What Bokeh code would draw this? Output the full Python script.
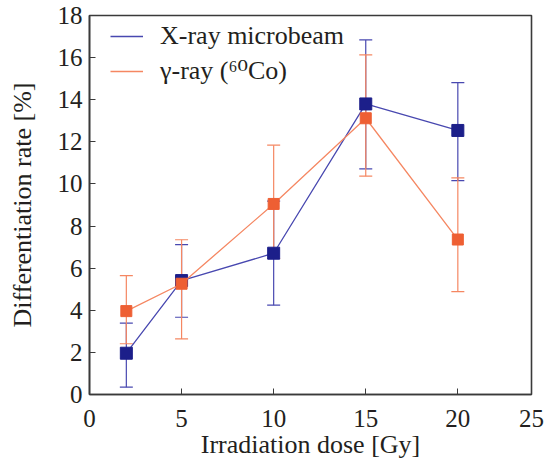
from bokeh.plotting import figure
from bokeh.models import (ColumnDataSource, Whisker, TeeHead, Legend, LegendItem,
                          FixedTicker, Range1d)
from bokeh.embed import file_html
from bokeh.resources import INLINE

# ---- data ----
dose = [2, 5, 10, 15, 20]
xray_rate = [1.96, 5.41, 6.71, 13.80, 12.54]
xray_hi = [3.39, 7.12, 9.18, 16.84, 14.81]
xray_lo = [0.35, 3.67, 4.24, 10.72, 10.16]
gamma_rate = [3.96, 5.26, 9.05, 13.12, 7.36]
gamma_hi = [5.65, 7.35, 11.84, 16.13, 10.29]
gamma_lo = [2.41, 2.64, 6.46, 10.37, 4.89]
x_ticks = [0, 5, 10, 15, 20, 24]
x_tick_labels = ["0", "5", "10", "15", "20", "25"]
y_ticks = [0, 2, 4, 6, 8, 10, 12, 14, 16, 18]

FONT = "Liberation Serif"
LEG_FONT = "Liberation Serif, DejaVu Serif"
BLUE_M = "#1c1f8a"
BLUE_L = "#4848b0"
ORANGE_M = "#ee5f33"
ORANGE_L = "#f58762"
AX = "#3a3a3a"

p = figure(width=548, height=461, output_backend="svg", toolbar_location=None,
           x_range=Range1d(0, 24), y_range=Range1d(0, 18),
           min_border_left=89, min_border_right=17, min_border_top=15,
           min_border_bottom=67)
p.grid.visible = False
p.outline_line_color = AX
p.outline_line_width = 1.6

bsrc = ColumnDataSource(dict(x=dose, y=xray_rate, hi=xray_hi, lo=xray_lo))
gsrc = ColumnDataSource(dict(x=dose, y=gamma_rate, hi=gamma_hi, lo=gamma_lo))

# X-ray series
bw = Whisker(source=bsrc, base="x", upper="hi", lower="lo",
             line_color=BLUE_L, line_width=1.2,
             upper_head=TeeHead(size=13, line_color=BLUE_L, line_width=1.2),
             lower_head=TeeHead(size=13, line_color=BLUE_L, line_width=1.2))
p.add_layout(bw)
bline = p.line("x", "y", source=bsrc, line_color=BLUE_L, line_width=1.3)
p.scatter("x", "y", source=bsrc, marker="square", size=12,
          fill_color=BLUE_M, line_color=BLUE_M)

# gamma series
gw = Whisker(source=gsrc, base="x", upper="hi", lower="lo",
             line_color=ORANGE_L, line_width=1.2,
             upper_head=TeeHead(size=13, line_color=ORANGE_L, line_width=1.2),
             lower_head=TeeHead(size=13, line_color=ORANGE_L, line_width=1.2))
p.add_layout(gw)
gline = p.line("x", "y", source=gsrc, line_color=ORANGE_L, line_width=1.3)
p.scatter("x", "y", source=gsrc, marker="square", size=11,
          fill_color=ORANGE_M, line_color=ORANGE_M)

# axes
p.xaxis.ticker = FixedTicker(ticks=x_ticks)
p.xaxis.major_label_overrides = {t: l for t, l in zip(x_ticks, x_tick_labels)}
p.yaxis.ticker = FixedTicker(ticks=y_ticks)
for ax in (p.xaxis[0], p.yaxis[0]):
    ax.axis_line_color = AX
    ax.axis_line_width = 1.6
    ax.major_tick_line_color = AX
    ax.major_tick_in = 6
    ax.major_tick_out = 0
    ax.minor_tick_line_color = None
    ax.major_label_text_font = FONT
    ax.major_label_text_font_size = "25px"
    ax.major_label_text_color = "#231f20"
    ax.axis_label_text_font = FONT
    ax.axis_label_text_font_size = "26px"
    ax.axis_label_text_font_style = "normal"
    ax.axis_label_text_color = "#231f20"

p.xaxis.axis_label = "Irradiation dose [Gy]"
p.yaxis.axis_label = "Differentiation rate [%]"
p.xaxis.major_label_standoff = 15
p.yaxis.major_label_standoff = 7
p.xaxis.axis_label_standoff = 0
p.yaxis.axis_label_standoff = 18

legend = Legend(items=[LegendItem(label="X-ray microbeam", renderers=[bline]),
                       LegendItem(label="γ-ray (⁶⁰Co)", renderers=[gline])],
                location=(21, 308), padding=0, margin=0, spacing=4,
                glyph_width=33, glyph_height=30, label_height=30,
                label_standoff=17, border_line_alpha=0,
                background_fill_alpha=0,
                label_text_font=LEG_FONT, label_text_font_size="26px",
                label_text_color="#231f20")
p.add_layout(legend)

open("out.html", "w").write(file_html(p, INLINE))
